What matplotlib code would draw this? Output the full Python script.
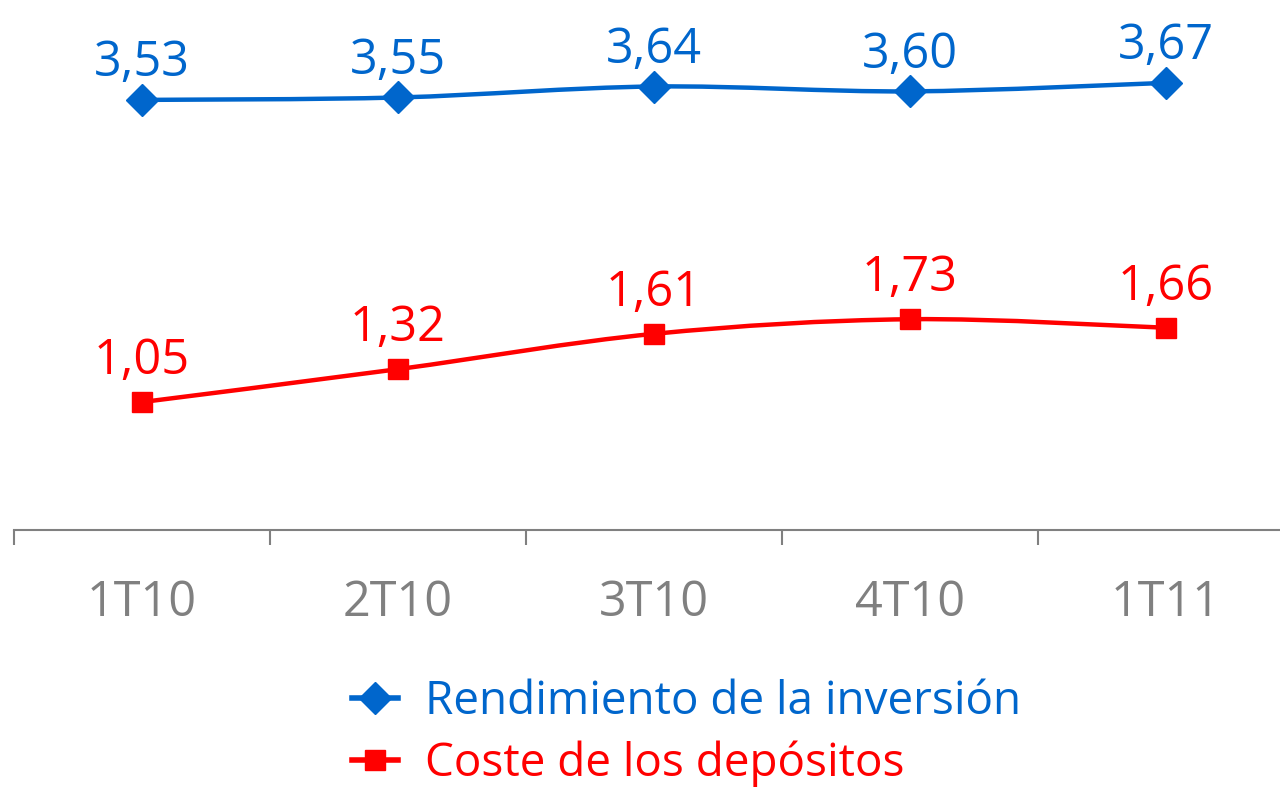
import numpy as np
import matplotlib
matplotlib.use("Agg")
import matplotlib.pyplot as plt
from matplotlib.path import Path
from matplotlib.patches import PathPatch
from matplotlib.lines import Line2D

plt.rcParams['font.family'] = ['Open Sans', 'DejaVu Sans']

categories = ['1T10', '2T10', '3T10', '4T10', '1T11']
rendimiento = [3.53, 3.55, 3.64, 3.60, 3.67]
coste = [1.05, 1.32, 1.61, 1.73, 1.66]

BLUE = '#0066cc'
RED = '#ff0000'
GREY = '#808080'


def smooth_path(x, y):
    """Excel-like smoothed line: Catmull-Rom segments as cubic Beziers."""
    x = np.asarray(x, float)
    y = np.asarray(y, float)
    n = len(x)
    verts = [(x[0], y[0])]
    codes = [Path.MOVETO]
    for i in range(n - 1):
        i0 = max(i - 1, 0)
        i3 = min(i + 2, n - 1)
        c1 = (x[i] + (x[i + 1] - x[i0]) / 6, y[i] + (y[i + 1] - y[i0]) / 6)
        c2 = (x[i + 1] - (x[i3] - x[i]) / 6, y[i + 1] - (y[i3] - y[i]) / 6)
        verts += [c1, c2, (x[i + 1], y[i + 1])]
        codes += [Path.CURVE4] * 3
    return Path(verts, codes)


fig = plt.figure(figsize=(12.8, 7.88), dpi=100)
ax = fig.add_axes([14 / 1280, 258 / 788, 1.0, 530 / 788])

xs = np.arange(len(categories))
series = [
    (rendimiento, BLUE, 'D', 16, 'Rendimiento de la inversión', 17),
    (coste, RED, 's', 14, 'Coste de los depósitos', 20),
]
handles = []
for vals, col, mk, ms, name, off in series:
    ax.add_patch(PathPatch(smooth_path(xs, vals), facecolor='none',
                           edgecolor=col, lw=3.2, capstyle='round', zorder=2))
    ax.plot(xs, vals, ls='none', marker=mk, ms=ms, color=col, zorder=3)
    for xv, v in zip(xs, vals):
        ax.annotate(f'{v:.2f}'.replace('.', ','), (xv, v),
                    xytext=(0, off), textcoords='offset points',
                    ha='center', va='baseline', fontsize=35, color=col)
    handles.append(Line2D([], [], color=col, lw=4, marker=mk, ms=ms,
                          label=name))

ax.set_xlim(-0.5, 4.5)
ax.set_ylim(0, 4.35)
ax.set_xticks(np.arange(-0.5, 5, 1))
ax.set_xticks(xs, minor=True)
ax.set_xticklabels([])
ax.set_xticklabels(categories, minor=True)
ax.tick_params(axis='x', which='major', direction='out', length=11,
               width=1.5, color=GREY)
ax.tick_params(axis='x', which='minor', length=0, pad=35,
               labelsize=35, labelcolor=GREY)
ax.set_yticks([])
for s in ['left', 'right', 'top']:
    ax.spines[s].set_visible(False)
ax.spines['bottom'].set_color(GREY)
ax.spines['bottom'].set_linewidth(1.5)
ax.patch.set_visible(False)

leg = fig.legend(handles=handles, loc='center left',
                 bbox_to_anchor=(352 / 1280, 1 - 733 / 788),
                 frameon=False, handlelength=1.0,
                 prop={'size': 33},
                 handletextpad=0.6, labelspacing=0.32, labelcolor='linecolor',
                 borderaxespad=0, borderpad=0)

fig.savefig('out.png', dpi=100)
